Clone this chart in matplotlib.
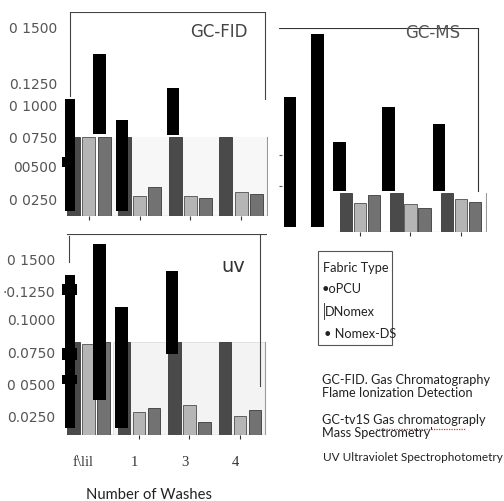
import matplotlib.pyplot as plt
from matplotlib.patches import Rectangle
from matplotlib.lines import Line2D
from matplotlib.transforms import ScaledTranslation

# Valores (tres paneles)
groups = [0, 1, 2, 3]
wash_labels = ['f\\lil', '1', '3', '4']

fid_dark = [0.0742, 0.0742, 0.0742, 0.0742]
fid_light = [0.0742, 0.0266, 0.0266, 0.0298]
fid_mid = [0.0742, 0.0339, 0.0250, 0.0282]
fid_ticks = [0.1637, 0.1185, 0.1008, 0.0750, 0.0516, 0.0250]
fid_ticklabels = ['0 1500', '0.1250', '0 1000', '0 0750', '00500', '0 0250']
# barras negras: (x, abajo, arriba, ancho)
fid_black = [(-0.375, 0.0145, 0.1048, 0.20), (-0.454, 0.0500, 0.0580, 0.16),
             (0.207, 0.0766, 0.1411, 0.256), (0.651, 0.0145, 0.0879, 0.237),
             (1.657, 0.0758, 0.1137, 0.237)]

ms_groups = [1, 2, 3]
ms_dark = [0.0420, 0.0420, 0.0420]
ms_light = [0.0339, 0.0331, 0.0371]
ms_mid = [0.0403, 0.0299, 0.0347]
ms_ticks = [0.0726, 0.0476]
ms_black = [(-0.386, 0.0145, 0.1194, 0.238), (0.158, 0.0145, 0.1702, 0.257),
            (0.594, 0.0436, 0.0831, 0.257), (1.564, 0.0436, 0.1113, 0.257),
            (2.564, 0.0436, 0.0976, 0.238)]

uv_dark = [0.0835, 0.0835, 0.0835, 0.0835]
uv_light = [0.0819, 0.0274, 0.0330, 0.0242]
uv_mid = [0.0835, 0.0306, 0.0194, 0.0290]
uv_ticks = [0.1500, 0.1244, 0.1027, 0.0755, 0.0506, 0.0250]
uv_ticklabels = ['0 1500', '\u00b70.1250', '0.1000', '0.0750', '0 0500', '0.0250']
uv_black = [(-0.366, 0.0146, 0.1372, 0.20), (-0.376, 0.1212, 0.1300, 0.30),
            (-0.376, 0.0691, 0.0787, 0.30), (-0.376, 0.0498, 0.0571, 0.30),
            (0.218, 0.0370, 0.1620, 0.257), (0.653, 0.0146, 0.1115, 0.257),
            (1.653, 0.0739, 0.1404, 0.238)]

c_dark = '#4a4a4a'
c_light = '#b5b5b5'
c_mid = '#727272'
lbl_color = '#555555'

W, H = 504, 502
fig = plt.figure(figsize=(W / 100, H / 100), dpi=100)


def px_axes(l, r, t, b):
    return fig.add_axes([l / W, 1 - b / H, (r - l) / W, (b - t) / H])


def limpiar(ax):
    for s in ax.spines.values():
        s.set_visible(False)
    ax.set_facecolor('none')


def barras(ax, xs, dark, light, mid, off, w):
    ax.bar([x - off for x in xs], dark, w, color=c_dark, edgecolor='#222222', lw=0.5, zorder=2)
    ax.bar(xs, light, w, color=c_light, edgecolor='#333333', lw=0.5, zorder=2)
    ax.bar([x + off for x in xs], mid, w, color=c_mid, edgecolor='#222222', lw=0.5, zorder=2)


def negras(ax, lista):
    for x, b0, b1, w in lista:
        ax.bar(x, b1 - b0, w, bottom=b0, color='black', zorder=3)


# ---------------- GC-FID
ax1 = px_axes(62, 268, 13, 217)
limpiar(ax1)
ax1.set_xlim(-0.53, 3.53)
ax1.set_ylim(0.0105, 0.175)
ax1.axvspan(0.45, 3.5, 0, 0.387, color='#f7f7f7', zorder=0)
barras(ax1, groups, fid_dark, fid_light, fid_mid, 0.3, 0.26)
negras(ax1, fid_black)
ax1.axhline(0.175, 0.039, 0.985, color='#444', lw=0.8)
ax1.axvline(-0.375, 0.588, 1, color='#444', lw=0.8)
ax1.axvline(3.47, 0.574, 1, color='#444', lw=0.8)
ax1.axhline(0.0105, 0.029, 0.995, color='#666', lw=0.8)
ax1.axvline(3.51, 0, 0.387, color='#999', lw=0.8)
ax1.set_xticks(groups)
ax1.set_xticklabels([])
ax1.tick_params(axis='x', length=3, width=0.8, color='#333')
ax1.set_yticks(fid_ticks)
ax1.set_yticklabels(fid_ticklabels)
ax1.tick_params(axis='y', length=0, pad=3.6, labelsize=10, labelcolor=lbl_color)
ax1.text(0.762, 0.907, 'GC-FID', transform=ax1.transAxes, ha='center', va='center',
         fontsize=12, color='#444')

# ---------------- GC-MS
ax2 = px_axes(279, 487, 29, 233)
limpiar(ax2)
ax2.set_xlim(-0.604, 3.515)
ax2.set_ylim(0.0105, 0.175)
barras(ax2, ms_groups, ms_dark, ms_light, ms_mid, 0.28, 0.25)
negras(ax2, ms_black)
ax2.axhline(0.175, 0, 0.957, color='#333', lw=0.8)
ax2.axvline(3.337, 0.201, 1, color='#333', lw=0.8)
ax2.axhline(0.0105, 0.279, 1, color='#666', lw=0.8)
ax2.axvline(3.495, 0, 0.191, color='#999', lw=0.8)
ax2.set_xticks(ms_groups)
ax2.set_xticklabels([])
ax2.tick_params(axis='x', length=3, width=0.8, color='#333')
ax2.set_yticks(ms_ticks)
ax2.set_yticklabels([])
ax2.tick_params(axis='y', direction='in', length=2, width=0.8, color='#555')
ax2.text(0.74, 0.98, 'GC-MS', transform=ax2.transAxes, ha='center', va='center',
         fontsize=12, color='#555')

# ---------------- UV
ax3 = px_axes(62, 267, 235, 436)
limpiar(ax3)
ax3.set_xlim(-0.525, 3.535)
ax3.set_ylim(0.009, 0.170)
ax3.axvspan(0.485, 3.495, 0, 0.463, facecolor='#f3f3f3', edgecolor='#dddddd', lw=0.6, zorder=0)
barras(ax3, groups, uv_dark, uv_light, uv_mid, 0.3, 0.25)
negras(ax3, uv_black)
ax3.axhline(0.170, 0.024, 1, color='#444', lw=0.8)
ax3.axvline(-0.386, 0.861, 0.99, color='#444', lw=0.8)
ax3.axvline(3.396, 0.244, 1, color='#444', lw=0.8)
ax3.axhline(0.009, 0.171, 0.985, color='#666', lw=0.8)
ax3.axvline(3.495, 0, 0.463, color='#999', lw=0.8)
ax3.set_xticks(groups)
ax3.set_xticklabels(wash_labels, fontfamily='Liberation Serif', fontsize=10.5, color='#333')
ax3.tick_params(axis='x', length=3, width=0.8, color='#333', pad=11.5)
ax3.xaxis.get_major_ticks()[0].tick1line.set_visible(False)
mover = ScaledTranslation(-5 / 100, 0, fig.dpi_scale_trans)
for t in ax3.get_xticklabels():
    t.set_transform(t.get_transform() + mover)
ax3.set_yticks(uv_ticks)
ax3.set_yticklabels(uv_ticklabels)
ax3.tick_params(axis='y', length=0, pad=5, labelsize=10, labelcolor=lbl_color)
ax3.text(0.837, 0.841, 'uv', transform=ax3.transAxes, ha='center', va='center',
         fontsize=14, color='#333')

fig.text(149 / W, 1 - 495 / H, 'Number of Washes', ha='center', va='center',
         fontfamily='Lato', fontsize=10.6, color='#222')

# ---------------- texto a la derecha
fig.patches.append(Rectangle((318 / W, 1 - 346 / H), 74 / W, 94 / H, transform=fig.transFigure,
                             fill=False, edgecolor='#555', lw=0.8))
txt = dict(ha='left', va='center', fontfamily='Lato', fontsize=9.2, color='#222')
fig.text(323 / W, 1 - 268 / H, 'Fabric Type', **txt)
fig.text(322 / W, 1 - 289 / H, '\u2022oPCU', **txt)
fig.text(325 / W, 1 - 312 / H, 'DNomex', **txt)
fig.add_artist(Line2D([323.5 / W, 323.5 / W], [1 - 304 / H, 1 - 320 / H], color='#444', lw=0.7))
fig.text(324 / W, 1 - 334 / H, '\u2022 Nomex-DS', **txt)

fig.text(322 / W, 1 - 380 / H, 'GC-FID. Gas Chromatography', **txt)
fig.text(322 / W, 1 - 393 / H, 'Flame Ionization Detection', **txt)
fig.text(322 / W, 1 - 420 / H, 'GC-tv1S Gas chromatograply', **txt)
fig.add_artist(Line2D([376 / W, 465 / W], [1 - 430 / H, 1 - 430 / H], color='#e03030',
                      lw=0.9, ls=(0, (1, 1))))
fig.text(322 / W, 1 - 433 / H, "Mass Spectrometry'", **txt)
fig.text(323 / W, 1 - 458 / H, 'UV Ultraviolet Spectrophotometry',
         ha='left', va='center', fontfamily='Lato', fontsize=8.5, color='#222')

fig.savefig('out.png', dpi=100)
